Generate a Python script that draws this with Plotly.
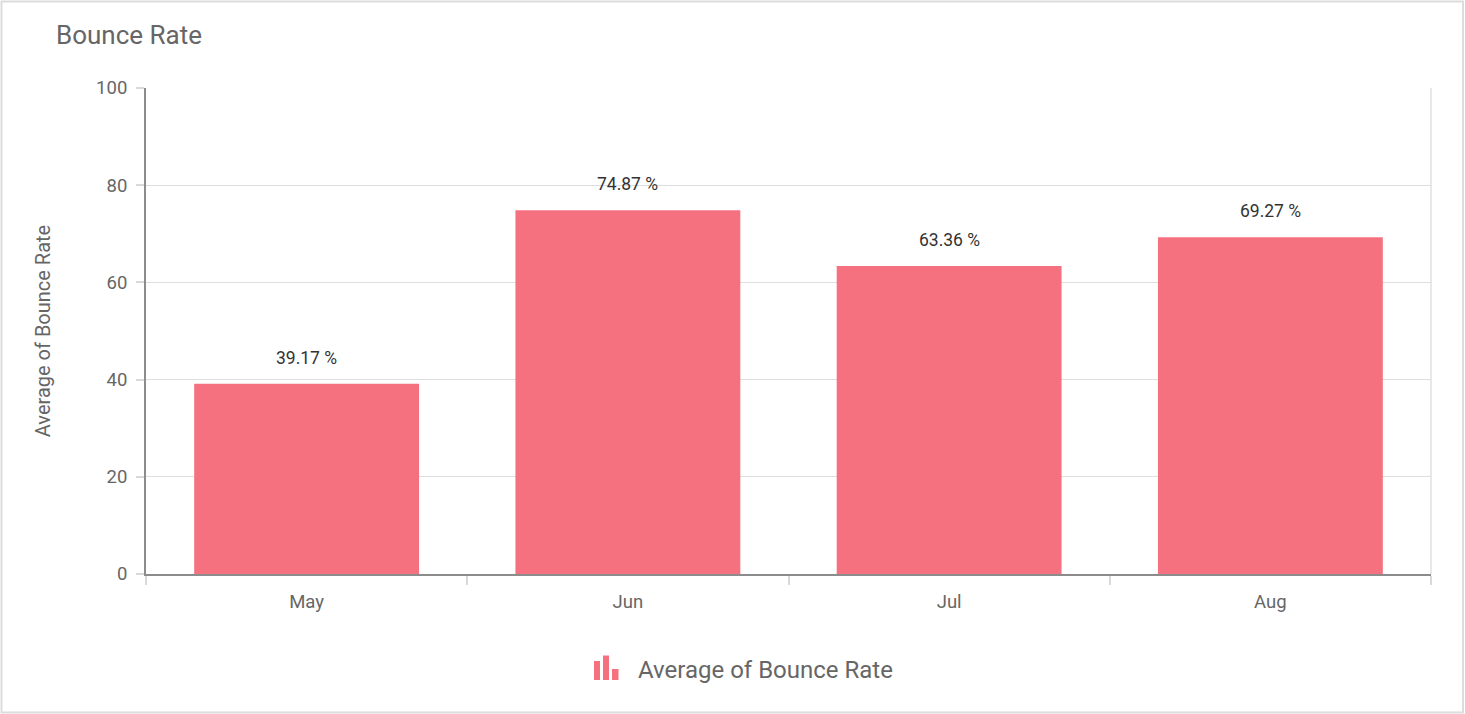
import plotly.graph_objects as go

months = ["May", "Jun", "Jul", "Aug"]
bounce_rate = [39.17, 74.87, 63.36, 69.27]
y_ticks = [0, 20, 40, 60, 80, 100]
series_name = "Average of Bounce Rate"
chart_title = "Bounce Rate"

BAR = "#F5717F"
FONT = "Roboto"

# page offset of the browser (body margin is removed by post_script)
OX, OY = 0, 0
SW, SH = 1465, 714
W, H = SW - OX, SH - OY
# plot area in screen pixels
PX0, PX1, PY0, PY1 = 146, 1431, 88, 574
L, R, T, B = PX0 - OX, SW - PX1, PY0 - OY, SH - PY1
pw, ph = W - L - R, H - T - B


def px_x(px):
    return (px - PX0) / pw


def px_y(py):
    return (PY1 - py) / ph


fig = go.Figure()
fig.add_trace(go.Bar(
    x=months, y=bounce_rate, name=series_name,
    marker=dict(color=BAR, line=dict(width=0)),
    hoverinfo="x+y", showlegend=False,
))

annotations = []
for m, v in zip(months, bounce_rate):
    annotations.append(dict(
        x=m, y=v, xref="x", yref="y", text=f"{v:.2f} %",
        showarrow=False, yanchor="bottom", yshift=14,
        font=dict(family=FONT, size=17.5, color="#333333"),
    ))

# legend (custom, with bar-chart icon)
annotations.append(dict(
    x=px_x(636), y=px_y(670), xref="paper", yref="paper", text=series_name,
    showarrow=False, xanchor="left", yanchor="middle",
    font=dict(family=FONT, size=24, color="#666666"),
))

shapes = []
# legend icon: three bars
for x0, x1, y0 in [(594, 600, 661), (603, 609, 655.5), (612, 618.5, 669)]:
    shapes.append(dict(type="rect", xref="paper", yref="paper",
                       x0=px_x(x0), x1=px_x(x1), y0=px_y(680), y1=px_y(y0),
                       fillcolor=BAR, line=dict(width=0)))
# right border gridline
shapes.append(dict(type="line", xref="paper", yref="paper", x0=1, x1=1, y0=0, y1=1,
                   line=dict(color="#e0e0e0", width=1.5), layer="below"))
# outer frame
shapes.append(dict(type="rect", xref="paper", yref="paper",
                   x0=px_x(1.5), x1=px_x(1463), y0=px_y(712.5), y1=px_y(1.5),
                   line=dict(color="#dcdcdc", width=2), fillcolor="rgba(0,0,0,0)"))

fig.update_layout(
    width=W, height=H,
    margin=dict(l=L, r=R, t=T, b=B, pad=0),
    paper_bgcolor="white", plot_bgcolor="white",
    font=dict(family=FONT, color="#666666"),
    title=dict(text=chart_title, x=(56 - OX) / W, xanchor="left", xref="container",
               y=1 - (35 - OY) / H, yanchor="middle", yref="container",
               font=dict(family=FONT, size=26, color="#666666")),
    bargap=0.3,
    showlegend=False,
    annotations=annotations,
    shapes=shapes,
    xaxis=dict(
        type="category", tickson="boundaries", ticks="outside", ticklen=9,
        tickcolor="#d9d9d9", tickwidth=1.5,
        showline=True, linecolor="#8c8c8c", linewidth=2,
        showgrid=False, tickfont=dict(family=FONT, size=18.5, color="#666666"),
        ticklabelstandoff=10,
    ),
    yaxis=dict(
        range=[0, 100], tickvals=y_ticks, ticks="outside", ticklen=8,
        tickcolor="#d9d9d9", tickwidth=1.5,
        showline=True, linecolor="#8c8c8c", linewidth=2,
        showgrid=True, gridcolor="#dedede", gridwidth=1.2,
        zeroline=False,
        tickfont=dict(family=FONT, size=18.5, color="#666666"),
        ticklabelstandoff=5,
        title=dict(text=series_name, standoff=40,
                   font=dict(family=FONT, size=20, color="#666666")),
    ),
)

fig.write_html(
    "out.html",
    config={"displayModeBar": False},
    post_script="document.body.style.margin='0';document.body.style.overflow='hidden';",
)
